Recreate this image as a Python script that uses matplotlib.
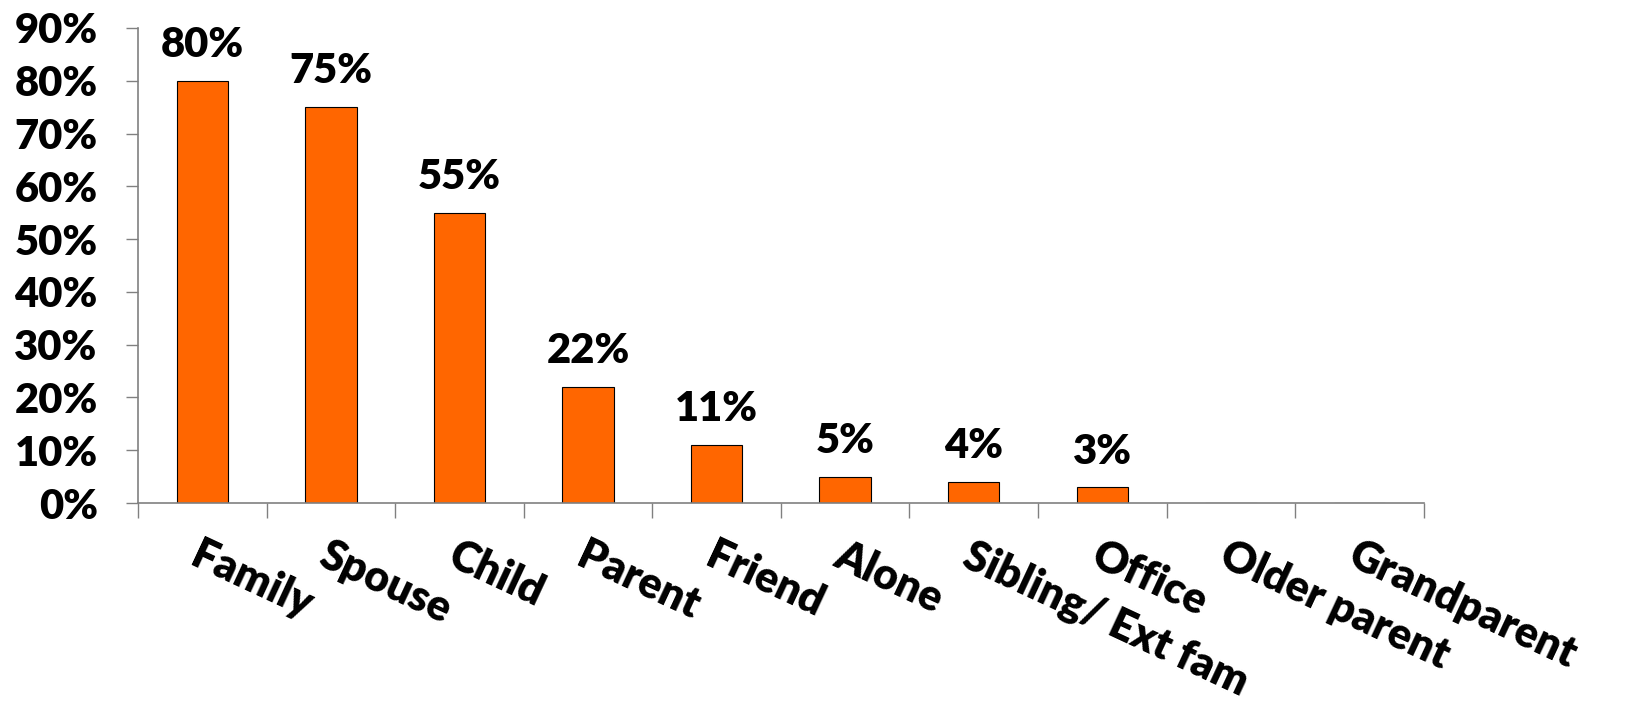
import matplotlib
matplotlib.use("Agg")
import matplotlib.pyplot as plt
from matplotlib.ticker import FuncFormatter, FixedLocator
import numpy as np

# categories and shares (fractions)
categories = ["Family", "Spouse", "Child", "Parent", "Friend", "Alone",
              "Sibling/ Ext fam", "Office", "Older parent", "Grandparent"]
values = [0.80, 0.75, 0.55, 0.22, 0.11, 0.05, 0.04, 0.03, 0.0, 0.0]

plt.rcParams['font.family'] = ['Lato', 'DejaVu Sans']
plt.rcParams['font.weight'] = 'heavy'

fig = plt.figure(figsize=(16.25, 7.05), dpi=100)
ax = fig.add_axes([0.0849, 0.2865, 0.7913, 0.6738])

x = np.arange(len(categories))
bars = ax.bar(x, values, width=0.4, color="#FF6600", edgecolor="black", linewidth=0.8)

# value labels, skip empty ones
for xi, v in zip(x, values):
    if v > 0:
        ax.annotate("{:.0%}".format(v), (xi, v), xytext=(0, 12), textcoords="offset points",
                    ha="center", va="bottom", fontsize=30, fontweight="heavy")

ax.set_xlim(-0.5, len(categories) - 0.5)
ax.set_ylim(0, 0.9)
ax.set_yticks(np.arange(0, 0.91, 0.1))
ax.yaxis.set_major_formatter(FuncFormatter(lambda v, p: "{:.0f}%".format(v * 100)))

# boundary ticks as major, labels on minor ticks at centers
ax.xaxis.set_major_locator(FixedLocator(np.arange(-0.5, len(categories), 1.0)))
ax.xaxis.set_major_formatter(FuncFormatter(lambda v, p: ""))
ax.set_xticks(x, minor=True)
ax.set_xticklabels(categories, minor=True, rotation=-25, ha="left", va="top",
                   rotation_mode="anchor", fontsize=31, fontweight="heavy")
ax.tick_params(axis="x", which="minor", length=0, pad=23)
ax.tick_params(axis="x", which="major", length=11, width=1, color="#808080", direction="out")
ax.tick_params(axis="y", length=9, width=1, color="#808080", direction="out", pad=20,
               labelsize=30)

for s in ["top", "right"]:
    ax.spines[s].set_visible(False)
for s in ["left", "bottom"]:
    ax.spines[s].set_color("#808080")
    ax.spines[s].set_linewidth(1.2)

plt.savefig("out.png", dpi=100)
